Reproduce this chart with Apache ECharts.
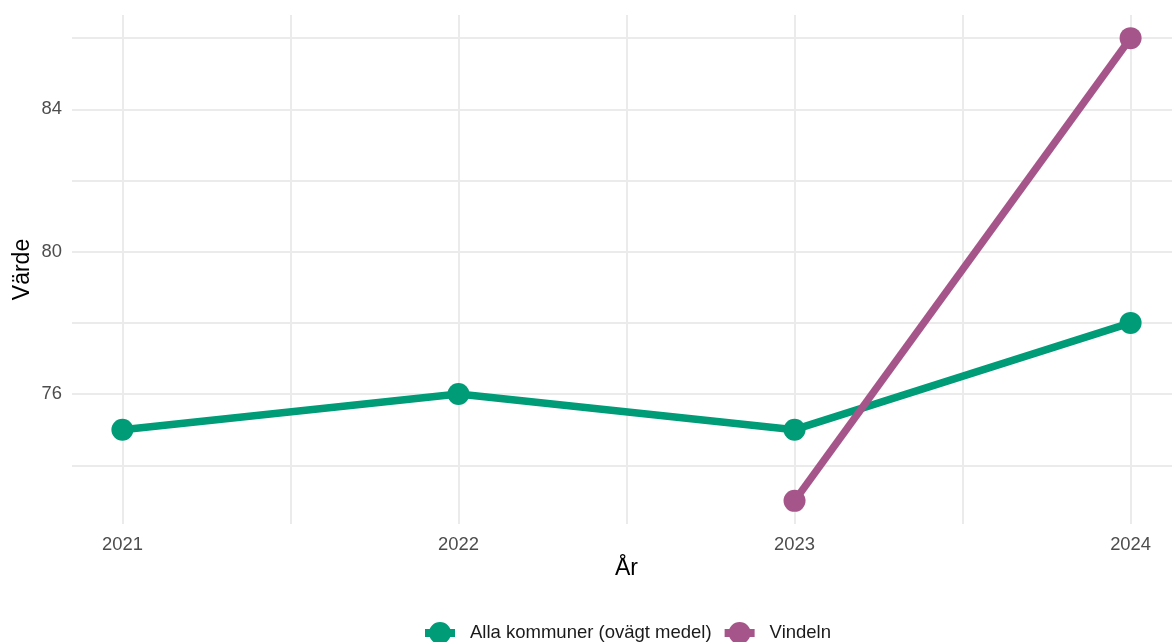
<!DOCTYPE html>
<html>
<head>
<meta charset="UTF-8">
<title>Värde per år</title>
<script src="https://cdn.jsdelivr.net/npm/echarts@6/dist/echarts.min.js"></script>
<style>
  html, body { margin: 0; padding: 0; background: #fff; }
  #chart { width: 1172px; height: 642px; }
</style>
</head>
<body>
<div id="chart"></div>
<script>
// data
var allaYears = [2021, 2022, 2023, 2024];
var allaValues = [75, 76, 75, 78];
var vindelnYears = [2023, 2024];
var vindelnValues = [73, 86];

var xMajor = [2021, 2022, 2023, 2024];
var xMinor = [2021.5, 2022.5, 2023.5];
var yMajor = [76, 80, 84];
var yMinor = [74, 78, 82, 86];

var seriesNames = ['Alla kommuner (ovägt medel)', 'Vindeln'];
var colors = ['#009B77', '#A6558A'];

function pairs(xs, ys) {
  return xs.map(function (x, i) { return [x, ys[i]]; });
}

var font = 'Liberation Sans, Arial, sans-serif';
var gridColor = '#EBEBEB';
// legend key: thick line with a dot on it
var keyIcon = 'path://M0,7H30V15H0Z M4,11A11,11 0 1,1 26,11A11,11 0 1,1 4,11Z';

var chart = echarts.init(document.getElementById('chart'));

var option = {
  animation: false,
  backgroundColor: '#fff',
  textStyle: { fontFamily: font },
  grid: { left: 72, top: 15, width: 1109, height: 509, containLabel: false, outerBoundsMode: 'none' },
  legend: {
    left: 425, top: 622, padding: 0,
    itemWidth: 30, itemHeight: 22, itemGap: 13,
    selectedMode: false,
    textStyle: { fontSize: 18.5, color: '#1A1A1A', fontFamily: font, padding: [0, 0, 0, 10] },
    data: [
      { name: seriesNames[0], icon: keyIcon, itemStyle: { color: colors[0] } },
      { name: seriesNames[1], icon: keyIcon, itemStyle: { color: colors[1] } }
    ]
  },
  xAxis: [
    {
      type: 'value', min: 2020.85, max: 2024.15, position: 'bottom',
      name: 'År', nameLocation: 'middle', nameGap: 33, nameMoveOverlap: false,
      nameTextStyle: { fontSize: 23, color: '#000', fontFamily: font },
      axisLine: { show: false },
      axisTick: { show: false, customValues: xMajor },
      axisLabel: {
        customValues: xMajor, margin: 12, fontSize: 18.4, color: '#4D4D4D',
        formatter: function (v) { return String(v); }
      },
      splitLine: { show: true, lineStyle: { color: gridColor, width: 2 } }
    },
    {
      type: 'value', min: 2020.85, max: 2024.15, position: 'bottom',
      axisLine: { show: false },
      axisTick: { show: false, customValues: xMinor },
      axisLabel: { show: false, customValues: xMinor },
      splitLine: { show: true, lineStyle: { color: gridColor, width: 2 } }
    }
  ],
  yAxis: [
    {
      type: 'value', min: 72.35, max: 86.65, position: 'left',
      name: 'Värde', nameLocation: 'middle', nameGap: 38, nameRotate: 90, nameMoveOverlap: false,
      nameTextStyle: { fontSize: 23, color: '#000', fontFamily: font },
      axisLine: { show: false },
      axisTick: { show: false, customValues: yMajor },
      axisLabel: { customValues: yMajor, margin: 10, fontSize: 18.4, color: '#4D4D4D', padding: [4, 0, 0, 0] },
      splitLine: { show: true, lineStyle: { color: gridColor, width: 2 } }
    },
    {
      type: 'value', min: 72.35, max: 86.65, position: 'left',
      axisLine: { show: false },
      axisTick: { show: false, customValues: yMinor },
      axisLabel: { show: false, customValues: yMinor },
      splitLine: { show: true, lineStyle: { color: gridColor, width: 2 } }
    }
  ],
  series: [
    {
      name: seriesNames[0], type: 'line',
      data: pairs(allaYears, allaValues),
      color: colors[0],
      lineStyle: { width: 7.5, color: colors[0] },
      itemStyle: { color: colors[0] },
      symbol: 'circle', symbolSize: 22, showSymbol: true,
      emphasis: { disabled: true }
    },
    {
      name: seriesNames[1], type: 'line',
      data: pairs(vindelnYears, vindelnValues),
      color: colors[1],
      lineStyle: { width: 7.5, color: colors[1] },
      itemStyle: { color: colors[1] },
      symbol: 'circle', symbolSize: 22, showSymbol: true,
      emphasis: { disabled: true }
    }
  ]
};

chart.setOption(option);
</script>
</body>
</html>
